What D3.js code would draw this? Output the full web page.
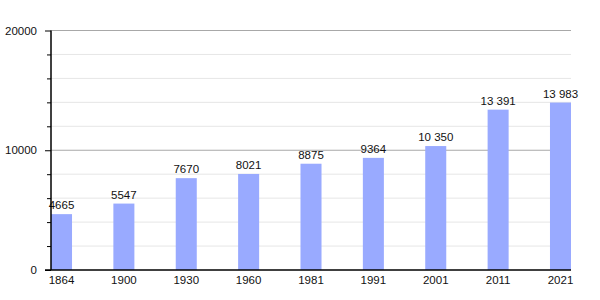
<!DOCTYPE html>
<html>
<head>
<meta charset="utf-8">
<script src="https://cdn.jsdelivr.net/npm/d3@7"></script>
<style>
body { margin: 0; background: #fff; }
text { font-family: "Liberation Sans", Arial, sans-serif; }
</style>
</head>
<body>
<svg id="chart" width="600" height="300"></svg>
<script>
const years = ["1864", "1900", "1930", "1960", "1981", "1991", "2001", "2011", "2021"];
const population = [4665, 5547, 7670, 8021, 8875, 9364, 10350, 13391, 13983];
const majorTicks = [0, 10000, 20000];
const minorTicks = [2000, 4000, 6000, 8000, 12000, 14000, 16000, 18000];

const plotLeft = 51;
const plotRight = 571;
const plotTop = 30.5;
const plotBottom = 270;

const svg = d3.select("#chart");

var x = d3.scaleBand()
    .domain(years)
    .range([plotLeft, plotRight])
    .paddingInner(0.663)
    .paddingOuter(0);

var y = d3.scaleLinear()
    .domain([0, 20000])
    .range([plotBottom, plotTop]);

// labels with a space as thousands separator, like the original
const fmt = v => v >= 10000 ? d3.format(",")(v).replace(/,/g, " ") : String(v);

// minor grid lines
svg.append("g")
    .selectAll("line")
    .data(minorTicks)
    .enter()
    .append("line")
    .attr("x1", plotLeft).attr("x2", plotRight)
    .attr("y1", d => y(d)).attr("y2", d => y(d))
    .attr("stroke", "#e6e6e6");

// major grid lines
svg.append("g")
    .selectAll("line")
    .data(majorTicks.filter(d => d > 0))
    .enter()
    .append("line")
    .attr("x1", plotLeft).attr("x2", plotRight)
    .attr("y1", d => y(d)).attr("y2", d => y(d))
    .attr("stroke", "#a8a8a8")
    .attr("stroke-width", 1.2);

svg.append("g")
    .selectAll("rect")
    .data(population)
    .enter()
    .append("rect")
    .attr("x", (d, i) => x(years[i]))
    .attr("width", x.bandwidth())
    .attr("y", d => y(d))
    .attr("height", d => y(0) - y(d))
    .attr("fill", "#99aaff");

svg.append("g")
    .selectAll("text")
    .data(population)
    .enter()
    .append("text")
    .attr("x", (d, i) => x(years[i]) + x.bandwidth() / 2)
    .attr("y", d => y(d) - 5)
    .attr("text-anchor", "middle")
    .attr("font-size", 11.5)
    .attr("fill", "#111")
    .text(fmt);

// y axis
var yAxis = d3.axisLeft(y)
    .tickValues(majorTicks)
    .tickSize(6)
    .tickPadding(8)
    .tickFormat(d3.format("d"));

svg.append("g")
    .attr("transform", "translate(" + plotLeft + ",0)")
    .call(yAxis)
    .call(g => g.select(".domain").remove())
    .call(g => g.selectAll("text").attr("font-size", 11.5).attr("fill", "#111").style("font-family", "Liberation Sans, Arial, sans-serif"));

svg.append("g")
    .attr("transform", "translate(" + plotLeft + ",0)")
    .call(d3.axisLeft(y).tickValues(minorTicks).tickSize(4).tickFormat(""))
    .call(g => g.select(".domain").remove());

svg.append("line")
    .attr("x1", plotLeft).attr("x2", plotLeft)
    .attr("y1", plotTop).attr("y2", plotBottom)
    .attr("stroke", "#000").attr("stroke-width", 1.5);

// x axis
var xAxis = d3.axisBottom(x).tickSize(0).tickPadding(6);
svg.append("g")
    .attr("transform", "translate(0," + plotBottom + ")")
    .call(xAxis)
    .call(g => g.select(".domain").remove())
    .call(g => g.selectAll("text").attr("font-size", 11.5).attr("fill", "#111").style("font-family", "Liberation Sans, Arial, sans-serif"));

svg.append("line")
    .attr("x1", plotLeft - 6).attr("x2", plotRight)
    .attr("y1", plotBottom).attr("y2", plotBottom)
    .attr("stroke", "#000").attr("stroke-width", 1.5);
</script>
</body>
</html>
